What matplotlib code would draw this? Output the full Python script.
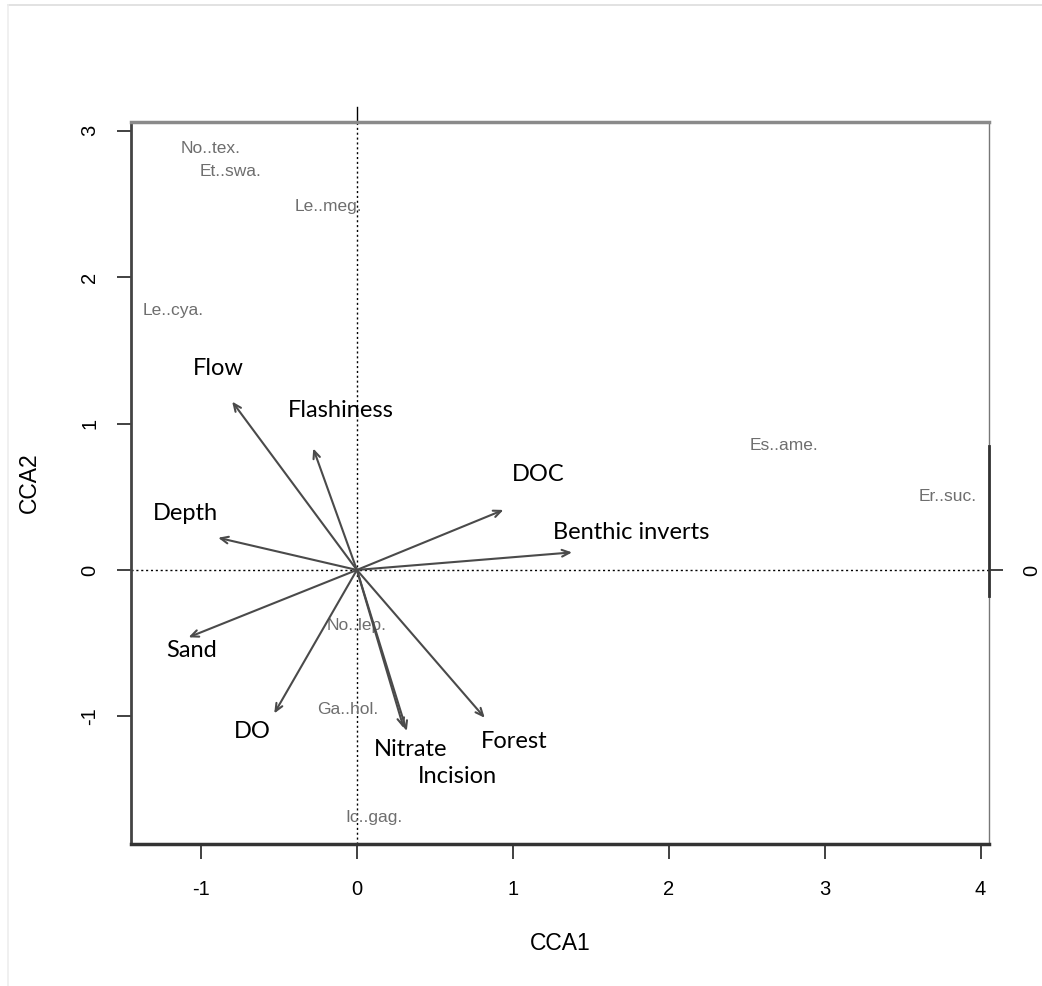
import matplotlib.pyplot as plt
from matplotlib.patches import FancyArrowPatch
from matplotlib.lines import Line2D

# environmental vectors (biplot scores)
env_names = ['Flow', 'Flashiness', 'DOC', 'Benthic inverts', 'Depth',
             'Sand', 'DO', 'Nitrate', 'Forest', 'Incision']
env_x = [-0.80, -0.28, 0.94, 1.38, -0.89, -1.08, -0.53, 0.32, 0.82, 0.30]
env_y = [1.15, 0.83, 0.41, 0.12, 0.22, -0.46, -0.98, -1.10, -1.01, -1.08]

# where each vector's name sits (data coords, baseline)
env_lab_x = [-0.888, -0.106, 1.164, 1.762, -1.097, -1.060, -0.673, 0.345, 1.010, 0.645]
env_lab_y = [1.332, 1.047, 0.608, 0.212, 0.342, -0.592, -1.148, -1.268, -1.216, -1.455]

# species scores
sp_names = ['No..tex.', 'Et..swa.', 'Le..meg.', 'Le..cya.', 'Es..ame.',
            'Er..suc.', 'No..lep.', 'Ga..hol.', 'Ic..gag.']
sp_x = [-0.94, -0.81, -0.18, -1.18, 2.74, 3.79, 0.0, -0.06, 0.11]
sp_y = [2.88, 2.72, 2.48, 1.77, 0.85, 0.50, -0.38, -0.95, -1.69]

xticks = [-1, 0, 1, 2, 3, 4]
yticks = [-1, 0, 1, 2, 3]

fig = plt.figure(figsize=(10.42, 9.86), dpi=100)
ax = fig.add_axes([0.1257, 0.1440, 0.8234, 0.7323])
ax.set_xlim(-1.449, 4.054)
ax.set_ylim(-1.872, 3.060)

ax.axhline(0, color='black', lw=1.0, ls=(0, (1.5, 2)), zorder=1)
ax.axvline(0, color='black', lw=1.0, ls=(0, (1.5, 2)), zorder=1)

for name, sx, sy in zip(sp_names, sp_x, sp_y):
    ax.text(sx, sy, name, ha='center', va='center', color='#6e6e6e',
            fontsize=12.5, family='Liberation Sans', zorder=2)

for ex, ey in zip(env_x, env_y):
    arr = FancyArrowPatch((0, 0), (ex, ey), arrowstyle='->,head_length=0.5,head_width=0.22',
                          mutation_scale=11, color='#4a4a4a', lw=1.5,
                          shrinkA=0, shrinkB=0, zorder=3)
    ax.add_patch(arr)

for name, lx, ly in zip(env_names, env_lab_x, env_lab_y):
    ax.text(lx, ly, name, ha='center', va='baseline', color='black',
            fontsize=17, family='Lato', zorder=4)

ax.set_xticks(xticks)
ax.set_yticks(yticks)
ax.set_xticklabels([str(v) for v in xticks], family='Liberation Sans', fontsize=14.5)
ax.set_yticklabels([str(v) for v in yticks], family='Liberation Sans', fontsize=14.5,
                   rotation=90, va='center')
ax.tick_params(axis='x', length=11, width=1.3, color='#333333', pad=15)
ax.tick_params(axis='y', length=10, width=1.3, color='#333333', pad=13)

ax.set_xlabel('CCA1', family='Liberation Sans', fontsize=16.5, labelpad=24)
ax.set_ylabel('CCA2', family='Liberation Sans', fontsize=16.5, labelpad=28)

ax.spines['left'].set_linewidth(2.0)
ax.spines['left'].set_color('#444444')
ax.spines['bottom'].set_linewidth(2.5)
ax.spines['bottom'].set_color('#333333')
ax.spines['top'].set_linewidth(2.5)
ax.spines['top'].set_color('#8a8a8a')
ax.spines['right'].set_linewidth(1.0)
ax.spines['right'].set_color('#777777')
ax.plot([1, 1], [0.85, -0.18], transform=ax.get_yaxis_transform(), color='#333333',
        lw=2.0, clip_on=False, zorder=5)

# single tick on the right side
sec = ax.secondary_yaxis('right')
sec.set_yticks([0])
sec.set_yticklabels(['0'], family='Liberation Sans', fontsize=14.5, rotation=90, va='center')
sec.tick_params(length=10, width=1.3, color='#333333', pad=14)
sec.spines['right'].set_visible(False)

# short stub of the vertical zero line above the box
ax.plot([0, 0], [3.06, 3.16], color='black', lw=1.0, clip_on=False)

# thin frame on the figure edges
fig.add_artist(Line2D([0.008, 1.0], [0.995, 0.995], color='#dddddd', lw=1.2))
fig.add_artist(Line2D([0.008, 0.008], [0.0, 0.995], color='#eeeeee', lw=1.2))

fig.savefig('out.png', dpi=100)
